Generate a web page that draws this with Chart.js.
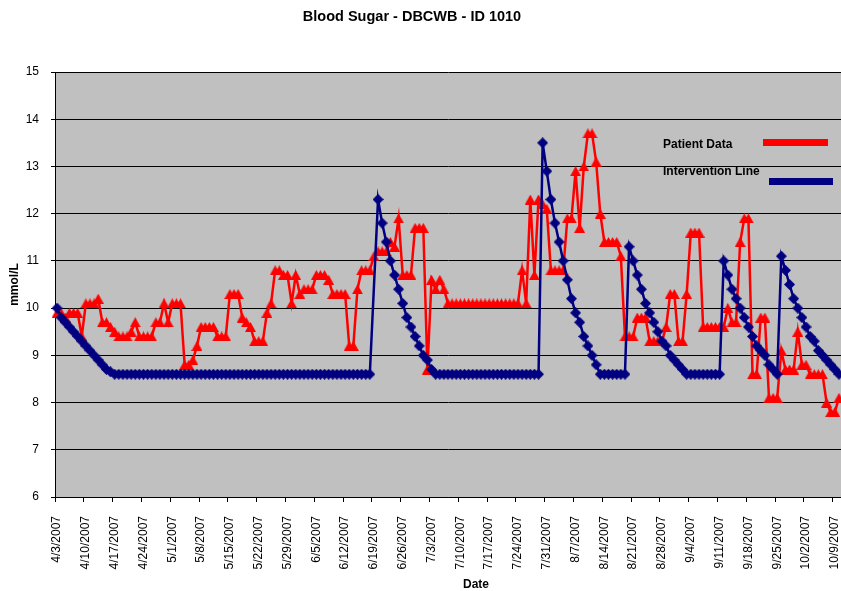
<!DOCTYPE html>
<html>
<head>
<meta charset="utf-8">
<script src="https://cdn.jsdelivr.net/npm/chart.js@4.4.0/dist/chart.umd.min.js"></script>
<style>
  body { margin: 0; background: #fff; }
  #wrap { width: 841px; height: 591px; }
</style>
</head>
<body>
<div id="wrap"><canvas id="sugar" width="841" height="591"></canvas></div>
<script>
var chartTitle = 'Blood Sugar - DBCWB - ID 1010';
var xTitle = 'Date';
var yTitle = 'mmol/L';
var firstDay = [2007, 3, 3]; // 4/3/2007, one category per day
var labelEvery = 7;
var yMin = 6, yMax = 15, yStep = 1;

var patientData = [
  9.9, 9.9, 9.8, 9.9, 9.9, 9.9, 9.4, 10.1, 10.1, 10.1,
  10.2, 9.7, 9.7, 9.6, 9.5, 9.4, 9.4, 9.4, 9.5, 9.7,
  9.4, 9.4, 9.4, 9.4, 9.7, 9.7, 10.1, 9.7, 10.1, 10.1,
  10.1, 8.8, 8.8, 8.9, 9.2, 9.6, 9.6, 9.6, 9.6, 9.4,
  9.4, 9.4, 10.3, 10.3, 10.3, 9.8, 9.7, 9.6, 9.3, 9.3,
  9.3, 9.9, 10.1, 10.8, 10.8, 10.7, 10.7, 10.1, 10.7, 10.3,
  10.4, 10.4, 10.4, 10.7, 10.7, 10.7, 10.6, 10.3, 10.3, 10.3,
  10.3, 9.2, 9.2, 10.4, 10.8, 10.8, 10.8, 11.1, 11.2, 11.2,
  11.2, 11.4, 11.3, 11.9, 10.7, 10.7, 10.7, 11.7, 11.7, 11.7,
  8.7, 10.6, 10.4, 10.6, 10.4, 10.1, 10.1, 10.1, 10.1, 10.1,
  10.1, 10.1, 10.1, 10.1, 10.1, 10.1, 10.1, 10.1, 10.1, 10.1,
  10.1, 10.1, 10.1, 10.8, 10.1, 12.3, 10.7, 12.3, 12.2, 12.1,
  10.8, 10.8, 10.8, 10.8, 11.9, 11.9, 12.9, 11.7, 13.0, 13.7,
  13.7, 13.1, 12.0, 11.4, 11.4, 11.4, 11.4, 11.1, 9.4, 9.4,
  9.4, 9.8, 9.8, 9.8, 9.3, 9.3, 9.3, 9.3, 9.6, 10.3,
  10.3, 9.3, 9.3, 10.3, 11.6, 11.6, 11.6, 9.6, 9.6, 9.6,
  9.6, 9.6, 9.6, 10.0, 9.7, 9.7, 11.4, 11.9, 11.9, 8.6,
  8.6, 9.8, 9.8, 8.1, 8.1, 8.1, 9.1, 8.7, 8.7, 8.7,
  9.5, 8.8, 8.8, 8.6, 8.6, 8.6, 8.6, 8.0, 7.8, 7.8,
  8.1
];

var interventionLine = [
  10.0, 9.8, 9.7, 9.6, 9.5, 9.4, 9.3, 9.2, 9.1, 9.0,
  8.9, 8.8, 8.7, 8.65, 8.6, 8.6, 8.6, 8.6, 8.6, 8.6,
  8.6, 8.6, 8.6, 8.6, 8.6, 8.6, 8.6, 8.6, 8.6, 8.6,
  8.6, 8.6, 8.6, 8.6, 8.6, 8.6, 8.6, 8.6, 8.6, 8.6,
  8.6, 8.6, 8.6, 8.6, 8.6, 8.6, 8.6, 8.6, 8.6, 8.6,
  8.6, 8.6, 8.6, 8.6, 8.6, 8.6, 8.6, 8.6, 8.6, 8.6,
  8.6, 8.6, 8.6, 8.6, 8.6, 8.6, 8.6, 8.6, 8.6, 8.6,
  8.6, 8.6, 8.6, 8.6, 8.6, 8.6, 8.6, null, 12.3, 11.8,
  11.4, 11.0, 10.7, 10.4, 10.1, 9.8, 9.6, 9.4, 9.2, 9.0,
  8.9, 8.7, 8.6, 8.6, 8.6, 8.6, 8.6, 8.6, 8.6, 8.6,
  8.6, 8.6, 8.6, 8.6, 8.6, 8.6, 8.6, 8.6, 8.6, 8.6,
  8.6, 8.6, 8.6, 8.6, 8.6, 8.6, 8.6, 8.6, 13.5, 12.9,
  12.3, 11.8, 11.4, 11.0, 10.6, 10.2, 9.9, 9.7, 9.4, 9.2,
  9.0, 8.8, 8.6, 8.6, 8.6, 8.6, 8.6, 8.6, 8.6, 11.3,
  11.0, 10.7, 10.4, 10.1, 9.9, 9.7, 9.5, 9.3, 9.2, 9.0,
  8.9, 8.8, 8.7, 8.6, 8.6, 8.6, 8.6, 8.6, 8.6, 8.6,
  8.6, 8.6, 11.0, 10.7, 10.4, 10.2, 10.0, 9.8, 9.6, 9.4,
  9.2, 9.1, 9.0, 8.8, 8.7, 8.6, 11.1, 10.8, 10.5, 10.2,
  10.0, 9.8, 9.6, 9.4, 9.3, 9.1, 9.0, 8.9, 8.8, 8.7,
  8.6
];

var RED = '#FF0000';
var NAVY = '#000080';
var FONT = '"Liberation Sans", Arial, sans-serif';

function buildDays(n) {
  var out = [];
  var d = new Date(firstDay[0], firstDay[1], firstDay[2]);
  for (var i = 0; i < n; i++) {
    out.push((d.getMonth() + 1) + '/' + d.getDate() + '/' + d.getFullYear());
    d.setDate(d.getDate() + 1);
  }
  return out;
}

// excel style markers, centred in their box
function triangleMark(color) {
  var c = document.createElement('canvas');
  c.width = 11; c.height = 10;
  var g = c.getContext('2d');
  g.fillStyle = color;
  g.beginPath();
  g.moveTo(5.5, 0); g.lineTo(11, 10); g.lineTo(0, 10);
  g.closePath(); g.fill();
  return c;
}
function diamondMark(color) {
  var c = document.createElement('canvas');
  c.width = 11; c.height = 11;
  var g = c.getContext('2d');
  g.fillStyle = color;
  g.beginPath();
  g.moveTo(5.5, 0); g.lineTo(11, 5.5); g.lineTo(5.5, 11); g.lineTo(0, 5.5);
  g.closePath(); g.fill();
  return c;
}

var plotBack = {
  id: 'plotBack',
  beforeDraw: function(chart) {
    var a = chart.chartArea, ctx = chart.ctx;
    ctx.save();
    ctx.fillStyle = '#C0C0C0';
    ctx.fillRect(a.left, a.top, a.right - a.left, a.bottom - a.top);
    ctx.restore();
  }
};

var texts = {
  id: 'texts',
  afterDraw: function(chart) {
    var ctx = chart.ctx;
    var ds = chart.data.datasets;
    ctx.save();
    ctx.fillStyle = '#000';
    ctx.textBaseline = 'middle';
    ctx.textAlign = 'center';
    ctx.font = 'bold 14.5px ' + FONT;
    ctx.fillText(chartTitle, 412, 17);
    ctx.font = 'bold 12px ' + FONT;
    ctx.fillText(xTitle, 476, 585);

    // legend inside the plot, text then swatch
    ctx.textAlign = 'left';
    ctx.fillText(ds[0].label, 663, 145);
    ctx.fillText(ds[1].label, 663, 172);
    ctx.fillStyle = ds[0].borderColor;
    ctx.fillRect(763, 139, 65, 7);
    ctx.fillStyle = ds[1].borderColor;
    ctx.fillRect(769, 178, 64, 7);
    ctx.restore();
  }
};

var days = buildDays(patientData.length);

new Chart(document.getElementById('sugar'), {
  type: 'line',
  data: {
    labels: days,
    datasets: [
      {
        label: 'Patient Data',
        data: patientData,
        borderColor: RED,
        backgroundColor: RED,
        borderWidth: 2.5,
        pointStyle: triangleMark(RED),
        pointRadius: 5,
        tension: 0,
        order: 2,
        clip: 8
      },
      {
        label: 'Intervention Line',
        data: interventionLine,
        borderColor: NAVY,
        backgroundColor: NAVY,
        borderWidth: 2.5,
        pointStyle: diamondMark(NAVY),
        pointRadius: 5,
        tension: 0,
        spanGaps: true,
        order: 1,
        clip: 8
      }
    ]
  },
  options: {
    responsive: false,
    animation: false,
    layout: { autoPadding: false, padding: { top: 72, left: 0, right: 0, bottom: 0 } },
    plugins: {
      legend: { display: false },
      title: { display: false },
      tooltip: { enabled: false }
    },
    scales: {
      x: {
        type: 'category',
        offset: true,
        afterFit: function(s) { s.height = 94; s.paddingLeft = 0; s.paddingRight = 0; },
        grid: {
          offset: true,
          drawOnChartArea: false,
          tickLength: 5,
          color: function(c) { return c.index % labelEvery === 0 ? '#000' : 'rgba(0,0,0,0)'; }
        },
        border: { display: true, color: '#000', width: 1 },
        ticks: {
          autoSkip: false,
          maxRotation: 90,
          minRotation: 90,
          padding: 14,
          color: '#000',
          font: { family: FONT, size: 12 },
          callback: function(val, index) {
            return index % labelEvery === 0 ? this.getLabelForValue(val) : '';
          }
        }
      },
      y: {
        min: yMin,
        max: yMax,
        afterFit: function(s) { s.width = 55; },
        grid: { color: '#000', lineWidth: 1, tickLength: 4 },
        border: { display: true, color: '#000', width: 1 },
        ticks: {
          stepSize: yStep,
          padding: 12,
          color: '#000',
          font: { family: FONT, size: 12 }
        },
        title: {
          display: true,
          text: yTitle,
          color: '#000',
          padding: { top: 7, bottom: 0 },
          font: { family: FONT, size: 12, weight: 'bold' }
        }
      }
    }
  },
  plugins: [plotBack, texts]
});
</script>
</body>
</html>
